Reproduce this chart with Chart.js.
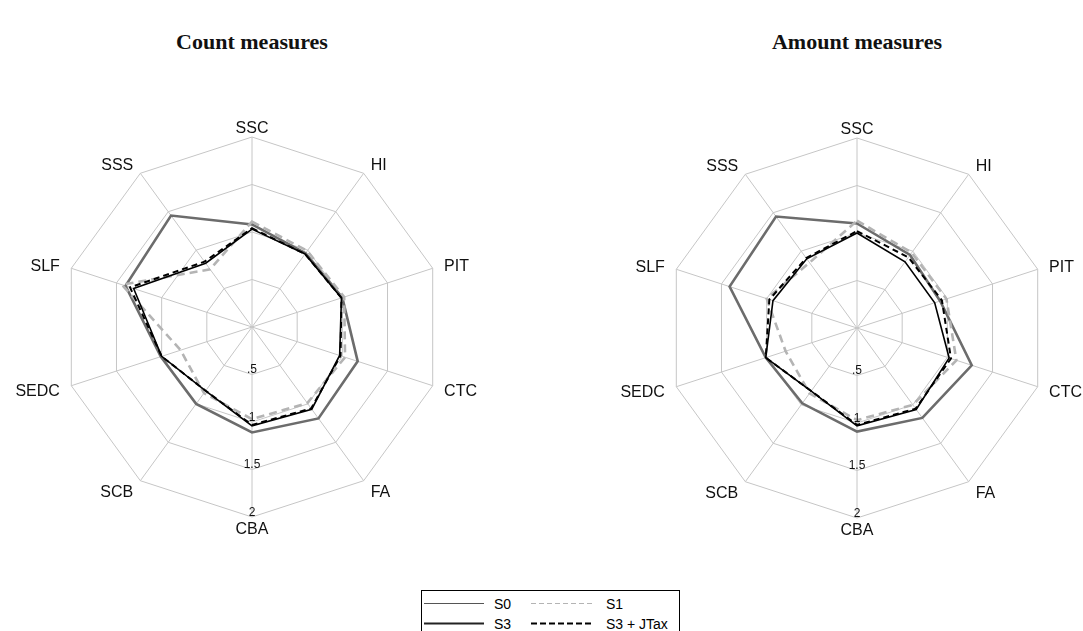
<!DOCTYPE html>
<html>
<head>
<meta charset="utf-8">
<script src="https://cdn.jsdelivr.net/npm/chart.js@4.4.1/dist/chart.umd.min.js"></script>
<style>
  html, body { margin: 0; padding: 0; background: #fff; }
  body { width: 1083px; height: 631px; position: relative; overflow: hidden; }
  .title {
    position: absolute; top: 28px; width: 300px; text-align: center;
    font-family: "Liberation Serif", "DejaVu Serif", serif; font-weight: bold;
    font-size: 22px; color: #111; line-height: 28px;
  }
  canvas { position: absolute; top: 0; }
  #legend { position: absolute; left: 421px; top: 590px; }
</style>
</head>
<body>
<div class="title" style="left:102px">Count measures</div>
<div class="title" style="left:707px">Amount measures</div>
<canvas id="countChart" width="540" height="580" style="left:0px"></canvas>
<canvas id="amountChart" width="542" height="580" style="left:541px"></canvas>
<svg id="legend" width="262" height="41" xmlns="http://www.w3.org/2000/svg"
     font-family="Liberation Sans, Arial, sans-serif" font-size="14">
  <rect x="0.5" y="0.5" width="258" height="48" fill="none" stroke="#000" stroke-width="1"/>
  <line x1="3" y1="13.5" x2="63" y2="13.5" stroke="#555" stroke-width="1.2"/>
  <text x="73" y="18.5" fill="#000">S0</text>
  <line x1="110" y1="13.5" x2="172" y2="13.5" stroke="#b4b4b4" stroke-width="1.2" stroke-dasharray="5,3"/>
  <text x="185" y="18.5" fill="#000">S1</text>
  <line x1="3" y1="33.5" x2="63" y2="33.5" stroke="#222" stroke-width="2"/>
  <text x="73" y="38.5" fill="#000">S3</text>
  <line x1="110" y1="33.5" x2="172" y2="33.5" stroke="#000" stroke-width="2" stroke-dasharray="6,3"/>
  <text x="185" y="38.5" fill="#000">S3 + JTax</text>
</svg>
<script>
// Axis categories, clockwise from the top
const categories = ['SSC', 'HI', 'PIT', 'CTC', 'FA', 'CBA', 'SCB', 'SEDC', 'SLF', 'SSS'];

// Radial tick values and their printed labels
const tickValues = [0.5, 1, 1.5, 2];
const tickLabels = ['.5', '1', '1.5', '2'];

// Count measures
const countS0   = [1.08, 0.96, 1.00, 1.17, 1.19, 1.11, 1.00, 1.01, 1.40, 1.45];
const countS1   = [1.11, 0.99, 1.02, 1.03, 0.99, 0.97, 0.86, 0.79, 1.44, 0.75];
const countS3   = [1.03, 0.95, 0.99, 0.97, 1.07, 1.04, 0.83, 1.00, 1.31, 0.83];
const countS3J  = [1.04, 0.95, 0.99, 0.98, 1.06, 1.03, 0.83, 1.00, 1.35, 0.85];

// Amount measures
const amountS0  = [1.10, 0.95, 0.92, 1.27, 1.17, 1.09, 0.98, 1.01, 1.41, 1.45];
const amountS1  = [1.13, 0.98, 0.99, 1.10, 1.00, 0.97, 0.85, 0.79, 1.00, 0.85];
const amountS3  = [1.00, 0.86, 0.86, 1.02, 1.06, 1.03, 0.82, 1.01, 0.93, 0.90];
const amountS3J = [1.02, 0.92, 0.94, 1.04, 1.05, 1.02, 0.82, 1.01, 0.97, 0.91];

const GRID = '#c6c6c6';
const LABEL_FONT = '16px "Liberation Sans", Arial, sans-serif';
const TICK_FONT = '12px "Liberation Sans", Arial, sans-serif';

// Draws the axis names around the web and the radial tick labels down the bottom spoke
const webLabels = {
  id: 'webLabels',
  afterDraw(chart) {
    const r = chart.scales.r;
    const ctx = chart.ctx;
    ctx.save();
    ctx.fillStyle = '#111';
    ctx.font = LABEL_FONT;
    categories.forEach((name, i) => {
      const a = r.getIndexAngle(i);
      const s = Math.sin(a), c = Math.cos(a);
      if (c > 0.95) {
        const p = r.getPointPosition(i, r.drawingArea + 4);
        ctx.textAlign = 'center'; ctx.textBaseline = 'alphabetic';
        ctx.fillText(name, p.x, p.y);
      } else if (c < -0.95) {
        const p = r.getPointPosition(i, r.drawingArea + 6);
        ctx.textAlign = 'center'; ctx.textBaseline = 'top';
        ctx.fillText(name, p.x, p.y - 1);
      } else {
        const p = r.getPointPosition(i, r.drawingArea + 12);
        ctx.textAlign = s > 0 ? 'left' : 'right'; ctx.textBaseline = 'middle';
        ctx.fillText(name, p.x, p.y + 2);
      }
    });
    ctx.font = TICK_FONT;
    ctx.textAlign = 'center';
    ctx.textBaseline = 'alphabetic';
    tickValues.forEach((v, k) => {
      const d = r.getDistanceFromCenterForValue(v);
      ctx.fillText(tickLabels[k], r.xCenter, r.yCenter + d - 1.5);
    });
    ctx.restore();
  }
};

function makeRadar(id, s0, s1, s3, s3j, pad) {
  return new Chart(document.getElementById(id), {
    type: 'radar',
    data: {
      labels: categories,
      datasets: [
        { label: 'S0', data: s0, borderColor: '#6c6c6c', borderWidth: 2.6, order: 4 },
        { label: 'S1', data: s1, borderColor: '#b4b4b4', borderWidth: 2.6, borderDash: [8, 5], order: 3 },
        { label: 'S3', data: s3, borderColor: '#000', borderWidth: 1.6, order: 2 },
        { label: 'S3 + JTax', data: s3j, borderColor: '#000', borderWidth: 2, borderDash: [6, 4], order: 1 }
      ]
    },
    options: {
      responsive: false,
      animation: false,
      layout: { padding: pad },
      elements: {
        line: { fill: false, tension: 0, borderJoinStyle: 'miter' },
        point: { radius: 0, hoverRadius: 0 }
      },
      plugins: { legend: { display: false }, tooltip: { enabled: false }, title: { display: false } },
      scales: {
        r: {
          min: 0, max: 2,
          ticks: { stepSize: 0.5, display: false },
          grid: { color: GRID, lineWidth: 1 },
          angleLines: { color: GRID, lineWidth: 1 },
          pointLabels: { display: false }
        }
      }
    },
    plugins: [webLabels]
  });
}

makeRadar('countChart', countS0, countS1, countS3, countS3J, { left: 62, top: 137, right: 98, bottom: 63 });
makeRadar('amountChart', amountS0, amountS1, amountS3, amountS3J, { left: 126, top: 138, right: 36, bottom: 62 });
</script>
</body>
</html>
